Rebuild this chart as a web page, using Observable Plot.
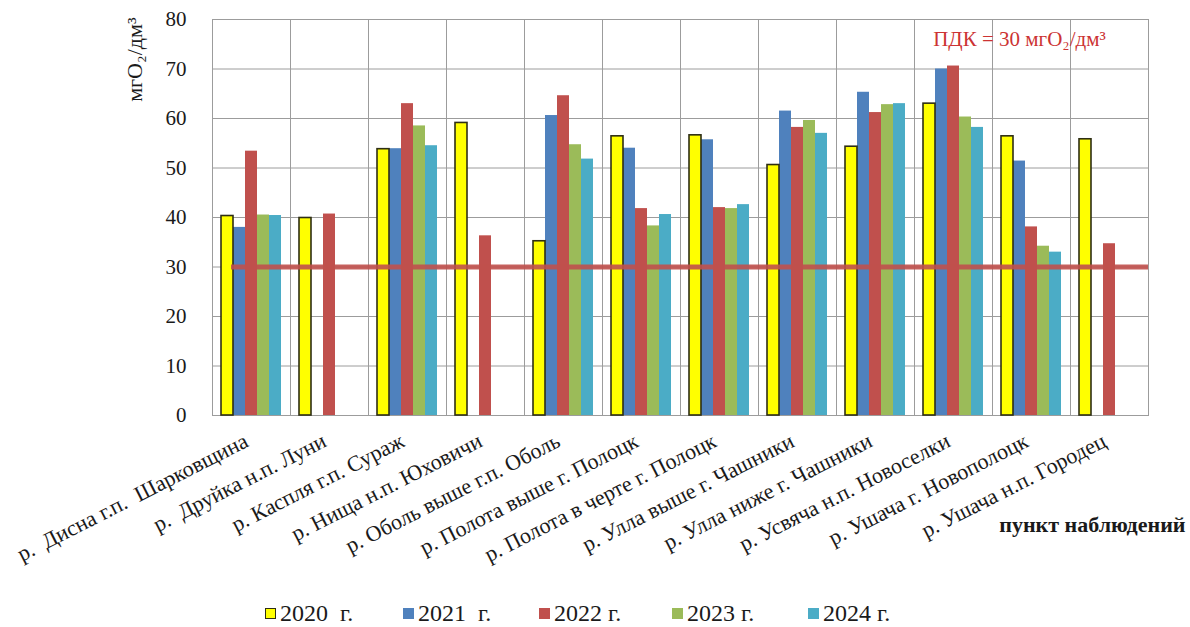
<!DOCTYPE html>
<html>
<head>
<meta charset="utf-8">
<script src="https://cdn.jsdelivr.net/npm/d3@7"></script>
<script src="https://cdn.jsdelivr.net/npm/@observablehq/plot@0.6"></script>
<style>
  html, body { margin: 0; padding: 0; background: #fff; }
  #chart { width: 1190px; font-family: "Liberation Serif", serif; color: #1a1a1a; }
  #chart svg, #chart svg text { font-family: "Liberation Serif", serif !important; }
  #chart svg text { white-space: pre; }
  .legend { position: relative; height: 39px; width: 1190px; font-family: "Liberation Serif", serif; }
  .legend .item { position: absolute; top: 13px; display: flex; align-items: center; font-size: 24px; line-height: 24px; white-space: pre; color: #1a1a1a; }
  .legend .sw { width: 11px; height: 11px; margin-right: 4px; box-sizing: border-box; }
</style>
</head>
<body>
<div id="chart"></div>
<script>
// Monitoring points (x categories)
const categories = [
  "р.  Дисна г.п.  Шарковщина",
  "р.  Друйка н.п. Луни",
  "р. Каспля г.п. Сураж",
  "р. Нища н.п. Юховичи",
  "р. Оболь выше г.п. Оболь",
  "р. Полота выше г. Полоцк",
  "р. Полота в черте г. Полоцк",
  "р. Улла выше г. Чашники",
  "р. Улла ниже г. Чашники",
  "р. Усвяча н.п. Новоселки",
  "р. Ушача г. Новополоцк",
  "р. Ушача н.п. Городец"
];

// Series, one value per monitoring point (null = no observation)
const years = ["2020", "2021", "2022", "2023", "2024"];
const legendLabels = ["2020  г.", "2021  г.", "2022 г.", "2023 г.", "2024 г."];
const v2020 = [40.3, 39.9, 53.8, 59.1, 35.2, 56.4, 56.6, 50.6, 54.3, 63.0, 56.4, 55.8];
const v2021 = [38.0, null, 53.9, null, 60.6, 54.0, 55.7, 61.5, 65.3, 70.0, 51.4, null];
const v2022 = [53.4, 40.7, 63.0, 36.3, 64.6, 41.8, 42.0, 58.2, 61.2, 70.6, 38.1, 34.7];
const v2023 = [40.5, null, 58.5, null, 54.7, 38.3, 41.8, 59.6, 62.8, 60.3, 34.2, null];
const v2024 = [40.4, null, 54.5, null, 51.8, 40.6, 42.6, 57.0, 63.0, 58.2, 33.0, null];
const series = [v2020, v2021, v2022, v2023, v2024];

// Threshold (ПДК)
const limit = 30;

const yTicks = [0, 10, 20, 30, 40, 50, 60, 70, 80];
const yLabel = "мгО₂/дм³";
const limitLabel = "ПДК = 30 мгО₂/дм³";
const xTitle = "пункт наблюдений";

const colors = ["#ffff00", "#4f81bd", "#c0504d", "#9bbb59", "#4bacc6"];
const gridColor = "#9c9c9c";
const limitColor = "#c0504d";

const rows = [];
categories.forEach((cat, i) => {
  years.forEach((year, j) => {
    const value = series[j][i];
    if (value != null) rows.push({cat, year, value});
  });
});

const limitRows = categories.map(cat => ({cat, value: limit}));

const chart = Plot.plot({
  width: 1190,
  height: 588,
  marginTop: 19,
  marginBottom: 173,
  marginLeft: 209,
  marginRight: 40,
  style: {background: "#fff", color: "#1a1a1a"},
  fx: {domain: categories, padding: 0, label: null},
  x: {domain: years, paddingInner: 0, paddingOuter: 0.7, axis: null},
  y: {domain: [0, 80], label: null},
  color: {domain: years, range: colors},
  marks: [
    Plot.gridY(yTicks, {stroke: gridColor, strokeOpacity: 1}),
    Plot.frame({stroke: gridColor}),
    Plot.barY(rows.filter(d => d.year !== "2020"), {fx: "cat", x: "year", y: "value", fill: "year"}),
    Plot.barY(rows.filter(d => d.year === "2020"), {fx: "cat", x: "year", y: "value", fill: "year", stroke: "#2e2e14", strokeWidth: 1.6}),
    Plot.ruleY(limitRows.slice(0, 1), {fx: "cat", y: "value", stroke: limitColor, strokeWidth: 5, strokeOpacity: 0.9, insetLeft: 19}),
    Plot.ruleY(limitRows.slice(1), {fx: "cat", y: "value", stroke: limitColor, strokeWidth: 5, strokeOpacity: 0.9}),
    Plot.axisY(yTicks, {tickSize: 0, tickPadding: 26, fontSize: 21, label: null}),
    Plot.axisFx({anchor: "bottom", tickRotate: -27, tickSize: 0, tickPadding: 24, dx: -5, fontSize: 22, label: null}),
    Plot.text([{cat: categories[0], t: yLabel}], {
      fx: "cat", text: "t", frameAnchor: "top-left", rotate: -90, textAnchor: "end",
      dx: -86, dy: -2, fontSize: 22
    }),
    Plot.text([{cat: categories[10], t: limitLabel}], {
      fx: "cat", text: "t", frameAnchor: "top", dx: -12, dy: 12, fontSize: 21, fill: "#cc3333"
    }),
    Plot.text([{cat: categories[11], t: xTitle}], {
      fx: "cat", text: "t", frameAnchor: "bottom-right", textAnchor: "end",
      dx: 37, dy: 116, fontSize: 22, fontWeight: "bold"
    })
  ]
});

const root = document.getElementById("chart");
root.appendChild(chart);

// Legend below the plot
const legend = document.createElement("div");
legend.className = "legend";
const itemLeft = [265, 403, 539, 672, 808];
years.forEach((year, j) => {
  const item = document.createElement("div");
  item.className = "item";
  item.style.left = itemLeft[j] + "px";
  const sw = document.createElement("span");
  sw.className = "sw";
  sw.style.background = colors[j];
  if (j === 0) sw.style.border = "1px solid #2e2e14";
  const label = document.createElement("span");
  label.textContent = legendLabels[j];
  item.appendChild(sw);
  item.appendChild(label);
  legend.appendChild(item);
});
root.appendChild(legend);
</script>
</body>
</html>
